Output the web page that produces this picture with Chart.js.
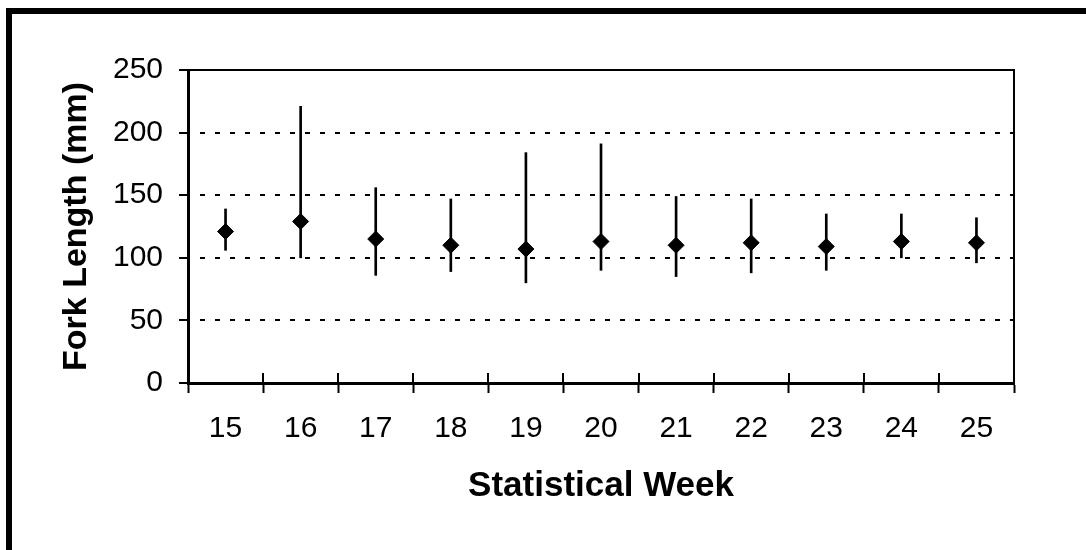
<!doctype html>
<html>

<head>
	<title>Fork Length by Statistical Week</title>
	<script src="https://cdn.jsdelivr.net/npm/chart.js@4/dist/chart.umd.min.js"></script>
	<style>
		html, body {
			margin: 0;
			padding: 0;
			background: #fff;
			overflow: hidden;
		}
		#frame {
			position: absolute;
			left: 6px;
			top: 8px;
			width: 1200px;
			height: 700px;
			border-left: 6px solid #000;
			border-top: 6px solid #000;
			pointer-events: none;
		}
		#canvas-holder {
			position: absolute;
			left: 0;
			top: 0;
			width: 1086px;
			height: 550px;
		}
	</style>
</head>

<body>
	<div id="canvas-holder">
		<canvas id="chart-area" width="1086" height="550"></canvas>
	</div>
	<div id="frame"></div>
	<script>
		// weekly fork length: mean with min/max range
		var weeks = ['15', '16', '17', '18', '19', '20', '21', '22', '23', '24', '25'];
		var meanLength = [121, 129, 115, 110, 107, 113, 110, 112, 109, 113, 112];
		var minLength = [106, 100, 86, 89, 80, 90, 85, 88, 90, 100, 96];
		var maxLength = [139, 221, 156, 147, 184, 191, 149, 147, 135, 135, 132];
		var yTicks = [0, 50, 100, 150, 200, 250];

		var FONT = "'Liberation Sans', Arial, Helvetica, sans-serif";

		var ranges = weeks.map(function (w, i) {
			return [minLength[i], maxLength[i]];
		});

		// top/right box line of the plot area, plus the inner half of the x tick marks
		var plotBox = {
			id: 'plotBox',
			afterDraw: function (chart) {
				var ctx = chart.ctx;
				var area = chart.chartArea;
				var x = chart.scales.x;
				ctx.save();
				ctx.strokeStyle = '#000';
				ctx.lineWidth = 2;
				ctx.beginPath();
				ctx.moveTo(area.left, area.top);
				ctx.lineTo(area.right, area.top);
				ctx.lineTo(area.right, area.bottom);
				ctx.stroke();

				ctx.beginPath();
				for (var i = 0; i <= weeks.length; i++) {
					var px = Math.round(x.getPixelForValue(i - 0.5));
					ctx.moveTo(px, area.bottom);
					ctx.lineTo(px, area.bottom - 10);
				}
				ctx.stroke();
				ctx.restore();
			}
		};

		var config = {
			type: 'bar',
			data: {
				labels: weeks,
				datasets: [{
					type: 'line',
					label: 'Mean',
					data: meanLength,
					showLine: false,
					pointStyle: 'rectRot',
					pointRadius: 8,
					pointBorderWidth: 1,
					pointBackgroundColor: '#000',
					pointBorderColor: '#000'
				}, {
					label: 'Range',
					data: ranges,
					backgroundColor: '#000',
					borderWidth: 0,
					barThickness: 2
				}]
			},
			options: {
				responsive: false,
				animation: false,
				layout: {
					padding: { top: 70, right: 72, bottom: 0, left: 0 }
				},
				plugins: {
					legend: { display: false },
					tooltip: { enabled: false }
				},
				scales: {
					x: {
						offset: true,
						grid: {
							offset: true,
							drawOnChartArea: false,
							drawTicks: true,
							tickLength: 10,
							tickWidth: 2,
							color: '#000'
						},
						border: { color: '#000', width: 3 },
						ticks: {
							color: '#000',
							padding: 18,
							font: { family: FONT, size: 30 }
						},
						title: {
							display: true,
							text: 'Statistical Week',
							color: '#000',
							font: { family: FONT, size: 35, weight: 'bold' },
							padding: { top: 0, bottom: 43 }
						},
						afterFit: function (scale) {
							scale.height = 167;
						}
					},
					y: {
						min: 0,
						max: 250,
						afterBuildTicks: function (scale) {
							scale.ticks = yTicks.map(function (v) { return { value: v }; });
						},
						grid: {
							color: '#000',
							lineWidth: 2,
							drawTicks: true,
							tickLength: 9,
							tickWidth: 2,
							tickBorderDash: []
						},
						border: { color: '#000', width: 3, dash: [5, 10], dashOffset: 5 },
						ticks: {
							color: '#000',
							padding: 16,
							font: { family: FONT, size: 30 }
						},
						title: {
							display: true,
							text: 'Fork Length (mm)',
							color: '#000',
							font: { family: FONT, size: 34, weight: 'bold' },
							padding: { top: 56, bottom: 0 }
						},
						afterFit: function (scale) {
							scale.width = 188;
						}
					}
				}
			},
			plugins: [plotBox]
		};

		window.onload = function () {
			var ctx = document.getElementById('chart-area').getContext('2d');
			window.myChart = new Chart(ctx, config);
		};
	</script>
</body>

</html>
